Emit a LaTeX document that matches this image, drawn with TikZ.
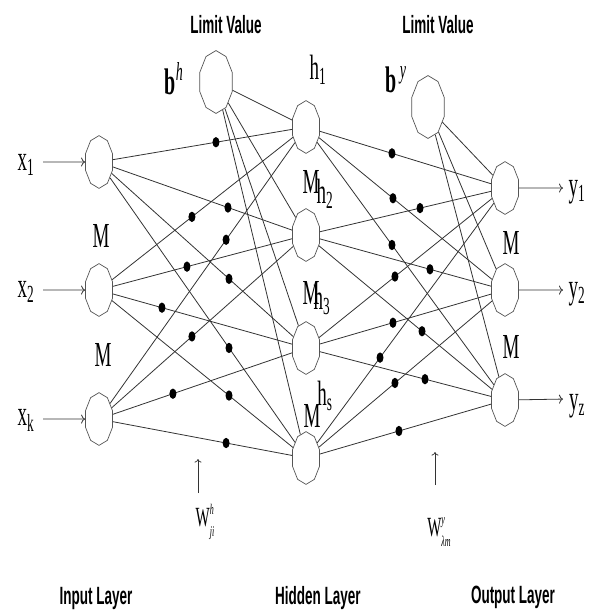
\documentclass[tikz,border=0pt]{standalone}
\usepackage{fontspec}
\setmainfont{Liberation Serif}
\newfontfamily\capsans{Liberation Sans}
\usetikzlibrary{shapes.geometric,calc,arrows.meta}

\definecolor{linkgray}{HTML}{333333}
\definecolor{rimgray}{HTML}{555555}

\tikzset{
  neuron/.style={draw=rimgray, fill=white, line width=0.7pt, regular polygon,
    regular polygon sides=10, shape border rotate=18, inner sep=0pt,
    minimum size=28.5pt},
  biasunit/.style={neuron, minimum size=34pt},
  link/.style={draw=linkgray, line width=0.8pt},
  wdot/.style={fill=black, draw=none, ellipse, inner sep=0pt,
    minimum width=7pt, minimum height=5.6pt},
  feed/.style={draw=linkgray, line width=0.8pt, -{To[length=4pt,width=9pt]}},
  pointer/.style={draw=linkgray, line width=0.7pt, -{To[length=3.5pt,width=7pt]}},
  sym/.style={inner sep=0pt, font=\fontsize{19}{19}\selectfont},
  wsym/.style={inner sep=0pt, font=\fontsize{15}{15}\selectfont},
  biassym/.style={inner sep=0pt, font=\bfseries\fontsize{20}{20}\selectfont},
  caption/.style={inner sep=0pt, font=\capsans\bfseries\fontsize{13.5}{13.5}\selectfont},
}

\begin{document}
\begin{tikzpicture}[x=1pt, y=-0.540541pt, yscale=1.85, transform shape]
\useasboundingbox (0,0) rectangle (595,613);

% neurons
\node[neuron] (i1) at (99,162) {};
\node[neuron] (i2) at (99,290) {};
\node[neuron] (ik) at (99,419) {};
\node[neuron] (h1) at (306,127) {};
\node[neuron] (h2) at (306,235) {};
\node[neuron] (h3) at (306,348) {};
\node[neuron] (hs) at (306,458) {};
\node[neuron] (o1) at (505,188) {};
\node[neuron] (o2) at (505,290) {};
\node[neuron] (oz) at (505,400) {};
\node[biasunit] (bh) at (216,82) {};
\node[biasunit] (by) at (428,107) {};

% weighted connections
\foreach \a in {i1,i2,ik,bh}
  \foreach \b in {h1,h2,h3,hs}
    \draw[link] (\a) -- (\b);
\foreach \a in {h1,h2,h3,hs,by}
  \foreach \b in {o1,o2,oz}
    \draw[link] (\a) -- (\b);

% weight markers
\foreach \a/\b/\f in {
  i1/h1/0.565, i1/h2/0.623, i1/h3/0.628, i1/hs/0.628,
  i2/h1/0.449, i2/h2/0.425, i2/h3/0.304, i2/hs/0.628,
  ik/h1/0.614, ik/h2/0.449, ik/h3/0.357, ik/hs/0.614,
  h1/o1/0.432, h1/o2/0.437, h1/oz/0.432,
  h2/o1/0.573, h2/o2/0.623, h2/oz/0.583,
  h3/o1/0.447, h3/o2/0.437, h3/oz/0.598,
  hs/o1/0.372, hs/o2/0.447, hs/oz/0.467}
  \node[wdot] (w-\a-\b) at ($(\a)!\f!(\b)$) {};

% inputs and outputs
\coordinate (in1) at (43,162);
\coordinate (in2) at (43,290);
\coordinate (ink) at (43,419);
\coordinate (out1) at (563,188);
\coordinate (out2) at (563,290);
\coordinate (outz) at (563,399);
\draw[feed] (in1) -- (i1);
\draw[feed] (in2) -- (i2);
\draw[feed] (ink) -- (ik);
\draw[feed] (o1) -- (out1);
\draw[feed] (o2) -- (out2);
\draw[feed] (oz) -- (outz);

\node[sym] (tx1) at (26,165) {x\textsubscript{1}};
\node[sym] (tx2) at (26,292) {x\textsubscript{2}};
\node[sym] (txk) at (26,420) {x\textsubscript{k}};
\node[sym] (ty1) at (577,192) {y\textsubscript{1}};
\node[sym] (ty2) at (577,294) {y\textsubscript{2}};
\node[sym] (tyz) at (577,406) {y\textsubscript{z}};

% ellipsis marks and unit names
\node[sym] (mi1) at (101,236) {M};
\node[sym] (mi2) at (103,355) {M};
\node[sym] (mo1) at (511,243) {M};
\node[sym] (mo2) at (511,347) {M};
\node[sym] (mh2) at (311,182) {M};
\node[sym] (mh3) at (311,293) {M};
\node[sym] (mhs) at (312,416) {M};
\node[sym] (th1) at (318,70) {h\textsubscript{1}};
\node[sym] (th2) at (325,194) {h\textsubscript{2}};
\node[sym] (th3) at (322,300) {h\textsubscript{3}};
\node[sym] (ths) at (325,396) {h\textsubscript{s}};

% bias labels
\node[biassym] (tbh) at (174,79) {b\textsuperscript{\normalfont\itshape h}};
\node[biassym] (tby) at (396,80) {b\,\textsuperscript{\normalfont\itshape y}};
\node[caption] (lv1) at (226,25) {Limit Value};
\node[caption] (lv2) at (438,25) {Limit Value};

% weight pointers
\coordinate (wa0) at (198,493);
\coordinate (wa1) at (198,459);
\coordinate (wb0) at (435,485);
\coordinate (wb1) at (435,452);
\draw[pointer] (wa0) -- (wa1);
\draw[pointer] (wb0) -- (wb1);
\node[wsym] (twh) at (205,522) {W\rlap{\raisebox{0.9ex}{\footnotesize\itshape h}}\raisebox{-0.8ex}{\footnotesize\itshape ji}};
\node[wsym] (twy) at (439,532) {W\rlap{\raisebox{0.9ex}{\footnotesize\itshape y}}\raisebox{-0.8ex}{\footnotesize\itshape λm}};

% layer names
\node[caption] (lin) at (96,598) {Input Layer};
\node[caption] (lhid) at (318,598) {Hidden Layer};
\node[caption] (lout) at (513,597) {Output Layer};
\end{tikzpicture}
\end{document}
